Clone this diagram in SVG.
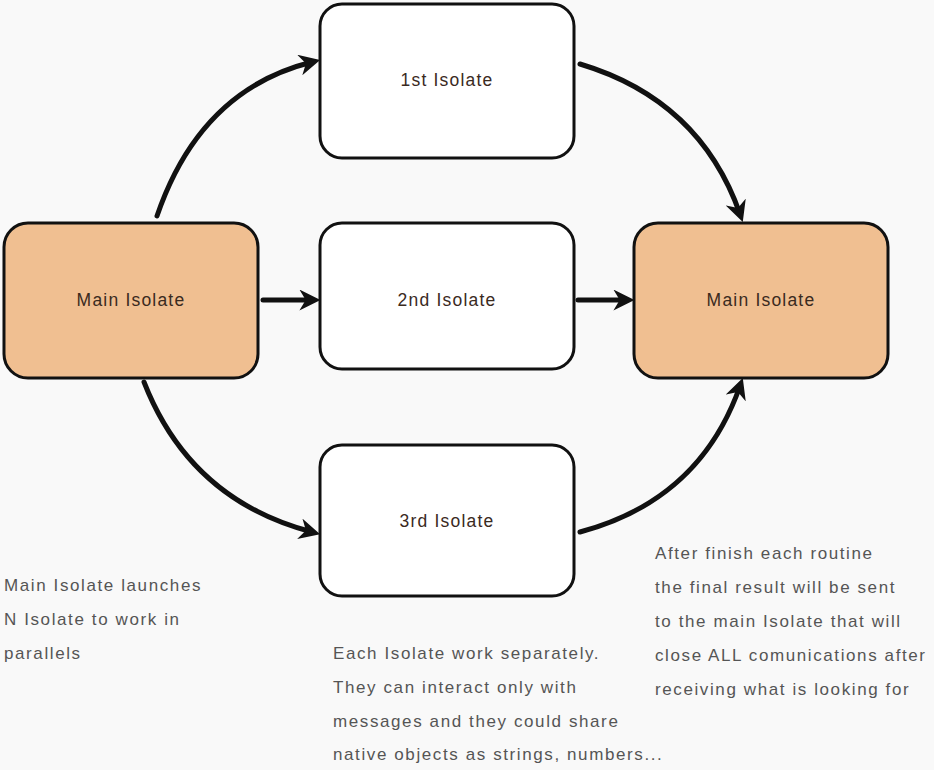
<svg xmlns="http://www.w3.org/2000/svg" width="934" height="770" viewBox="0 0 934 770">
<defs>
<style>
.box{stroke:#111;stroke-width:3;fill:#fff}
.main{fill:#f0bf91}
.lbl{font-family:"Liberation Sans",Arial,sans-serif;font-size:17.5px;letter-spacing:1.2px;fill:#3a2a1e;text-anchor:middle}
.cap{font-family:"Liberation Sans",Arial,sans-serif;font-size:17px;letter-spacing:1.6px;fill:#555}
.con{fill:none;stroke:#111;stroke-width:5;stroke-linecap:round}
</style>
<marker id="ah" viewBox="0 0 10 10" refX="6" refY="5" markerWidth="4.2" markerHeight="4.2" orient="auto" markerUnits="strokeWidth">
<path d="M0,0 L10,5 L0,10 L3,5 Z" fill="#111"/>
</marker>
</defs>
<rect width="934" height="770" fill="#f9f9f9"/>
<g id="connectors">
<path class="con" d="M157,216 Q200,90 312,62" marker-end="url(#ah)"/>
<path class="con" d="M580,64 Q700,100 740,214" marker-end="url(#ah)"/>
<path class="con" d="M263,300 L312,300" marker-end="url(#ah)"/>
<path class="con" d="M578,300 L626,300" marker-end="url(#ah)"/>
<path class="con" d="M144,382 Q190,500 312,532" marker-end="url(#ah)"/>
<path class="con" d="M580,532 Q700,500 740,386" marker-end="url(#ah)"/>
</g>
<g id="main-left">
<rect class="box main" x="4" y="223" width="254" height="155" rx="24"/>
<text class="lbl" x="131" y="306">Main Isolate</text>
</g>
<g id="isolate-1">
<rect class="box" x="320" y="4" width="254" height="154" rx="22"/>
<text class="lbl" x="447" y="86">1st Isolate</text>
</g>
<g id="isolate-2">
<rect class="box" x="320" y="223" width="254" height="146" rx="22"/>
<text class="lbl" x="447" y="306">2nd Isolate</text>
</g>
<g id="isolate-3">
<rect class="box" x="320" y="445" width="254" height="151" rx="22"/>
<text class="lbl" x="447" y="527">3rd Isolate</text>
</g>
<g id="main-right">
<rect class="box main" x="634" y="223" width="254" height="155" rx="24"/>
<text class="lbl" x="761" y="306">Main Isolate</text>
</g>
<g id="captions">
<text class="cap" x="4" y="591">Main Isolate launches</text>
<text class="cap" x="4" y="625">N Isolate to work in</text>
<text class="cap" x="4" y="659">parallels</text>
<text class="cap" x="333" y="659">Each Isolate work separately.</text>
<text class="cap" x="333" y="693">They can interact only with</text>
<text class="cap" x="333" y="727">messages and they could share</text>
<text class="cap" x="333" y="760">native objects as strings, numbers...</text>
<text class="cap" x="655" y="559">After finish each routine</text>
<text class="cap" x="655" y="593">the final result will be sent</text>
<text class="cap" x="655" y="627">to the main Isolate that will</text>
<text class="cap" x="655" y="661">close ALL comunications after</text>
<text class="cap" x="655" y="695">receiving what is looking for</text>
</g>
</svg>
